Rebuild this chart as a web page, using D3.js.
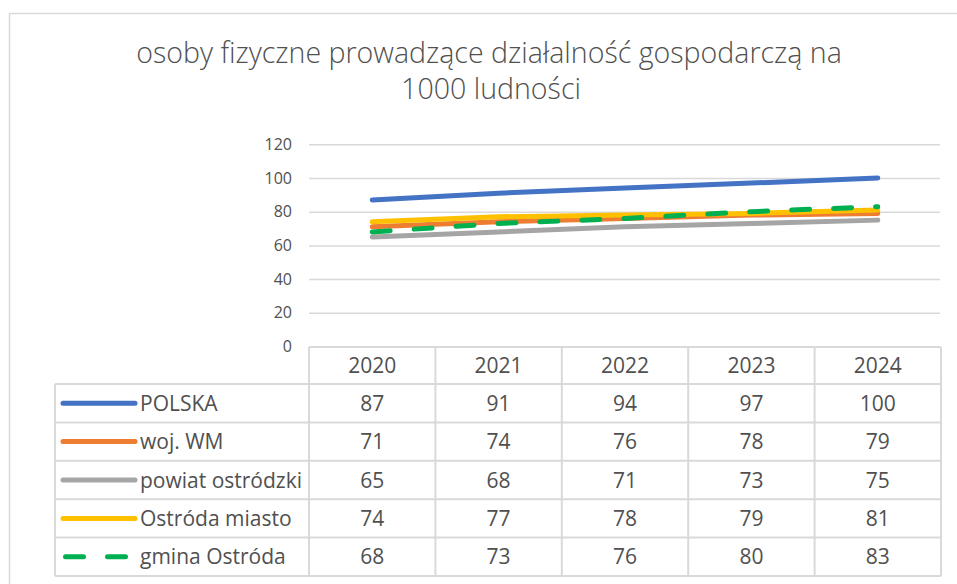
<!DOCTYPE html>
<html>
<head>
<meta charset="utf-8">
<script src="https://cdn.jsdelivr.net/npm/d3@7"></script>
<style>
  body { margin: 0; background: #fff; }
  svg text { font-family: "Open Sans", sans-serif; fill: #505050; }
</style>
</head>
<body>
<svg width="957" height="584"></svg>
<script>
// data
const years = ["2020", "2021", "2022", "2023", "2024"];
const seriesNames = ["POLSKA", "woj. WM", "powiat ostródzki", "Ostróda miasto", "gmina Ostróda"];
const polska = [87, 91, 94, 97, 100];
const wojWM = [71, 74, 76, 78, 79];
const powiat = [65, 68, 71, 73, 75];
const ostrodaMiasto = [74, 77, 78, 79, 81];
const gminaOstroda = [68, 73, 76, 80, 83];
const yTicks = [0, 20, 40, 60, 80, 100, 120];

const colors = ["#4472C4", "#ED7D31", "#A5A5A5", "#FFC000", "#00B050"];
const series = [polska, wojWM, powiat, ostrodaMiasto, gminaOstroda].map(function(v, i) {
	return {name: seriesNames[i], values: v, color: colors[i], dashed: i === 4};
});

const svg = d3.select("svg");

// outer chart frame
svg.append("rect")
		.attr("x", 9.5).attr("y", 13.5)
		.attr("width", 1000).attr("height", 600)
		.attr("fill", "none")
		.attr("stroke", "#D9D9D9")
		.attr("stroke-width", 1.5);

// title, fitted to the width of the original
const titleLines = ["osoby fizyczne prowadzące działalność gospodarczą na", "1000 ludności"];
const title = svg.append("g").attr("class", "title");
const t1 = title.append("text")
		.attr("x", 489).attr("y", 63)
		.attr("text-anchor", "middle")
		.style("font-weight", 300)
		.style("font-size", "26px")
		.text(titleLines[0]);
const w = t1.node().getComputedTextLength();
const titleSize = 26 * 706 / w;
t1.style("font-size", titleSize + "px");
title.append("text")
		.attr("x", 491).attr("y", 99)
		.attr("text-anchor", "middle")
		.style("font-weight", 300)
		.style("font-size", titleSize + "px")
		.text(titleLines[1]);

// scales
const plotLeft = 309, plotRight = 941;
const x = d3.scaleBand().domain(years).range([plotLeft, plotRight]);
const y = d3.scaleLinear().domain([0, 120]).range([346.5, 144.3]);
const cx = function(d) { return x(d) + x.bandwidth() / 2; };

// gridlines
const grid = svg.append("g")
		.attr("transform", "translate(" + plotLeft + ",0)")
		.call(d3.axisLeft(y).tickValues(yTicks.filter(function(d) { return d > 0; }))
				.tickSize(-(plotRight - plotLeft - 1)).tickFormat(""));
grid.select(".domain").remove();
grid.selectAll("line").attr("stroke", "#D9D9D9").attr("stroke-width", 1.5);

// y axis labels
const yAxis = svg.append("g")
		.attr("transform", "translate(" + plotLeft + ",0)")
		.call(d3.axisLeft(y).tickValues(yTicks).tickSize(0).tickPadding(17));
yAxis.select(".domain").remove();
yAxis.selectAll("text")
		.style("font-family", "'Open Sans', sans-serif")
		.style("font-size", "16px")
		.attr("fill", "#595959");

// lines
const line = d3.line()
		.x(function(d, i) { return cx(years[i]); })
		.y(function(d) { return y(d); });

svg.append("g").selectAll("path")
		.data(series)
		.enter().append("path")
		.attr("d", function(d) { return line(d.values); })
		.attr("fill", "none")
		.attr("stroke", function(d) { return d.color; })
		.attr("stroke-width", 5)
		.attr("stroke-linecap", "round")
		.attr("stroke-linejoin", "round")
		.attr("stroke-dasharray", function(d) { return d.dashed ? "18,24" : null; });

// data table
const tableTop = 347, headerBottom = 384, rowH = 38.4, legendLeft = 55;
const rowY = function(i) { return headerBottom + i * rowH; };
const tableBottom = rowY(series.length);
const tbl = svg.append("g").attr("class", "table");
const gridColor = "#D9D9D9";

// horizontal borders
tbl.append("line")
		.attr("x1", plotLeft).attr("x2", plotRight)
		.attr("y1", tableTop).attr("y2", tableTop);
tbl.selectAll(".hrow")
		.data(d3.range(series.length + 1))
		.enter().append("line")
		.attr("class", "hrow")
		.attr("x1", legendLeft).attr("x2", plotRight)
		.attr("y1", function(i) { return rowY(i); })
		.attr("y2", function(i) { return rowY(i); });
// vertical borders
tbl.append("line")
		.attr("x1", legendLeft).attr("x2", legendLeft)
		.attr("y1", headerBottom).attr("y2", tableBottom);
tbl.selectAll(".vcol")
		.data(years.concat(["end"]))
		.enter().append("line")
		.attr("class", "vcol")
		.attr("x1", function(d) { return d === "end" ? plotRight : x(d); })
		.attr("x2", function(d) { return d === "end" ? plotRight : x(d); })
		.attr("y1", tableTop).attr("y2", tableBottom);
tbl.selectAll("line").attr("stroke", gridColor).attr("stroke-width", 2);

// header years
tbl.selectAll(".year")
		.data(years)
		.enter().append("text")
		.attr("class", "year")
		.attr("x", cx)
		.attr("y", (tableTop + headerBottom) / 2 + 7.5)
		.attr("text-anchor", "middle")
		.style("font-size", "21px")
		.text(function(d) { return d; });

// rows
const rows = tbl.selectAll(".row")
		.data(series)
		.enter().append("g")
		.attr("class", "row")
		.attr("transform", function(d, i) { return "translate(0," + (rowY(i) + rowH / 2) + ")"; });

rows.append("line")
		.attr("x1", function(d) { return d.dashed ? 65.5 : 63; })
		.attr("x2", function(d) { return d.dashed ? 125.5 : 135; })
		.attr("y1", 0).attr("y2", 0)
		.attr("stroke", function(d) { return d.color; })
		.attr("stroke-width", 5)
		.attr("stroke-linecap", "round")
		.attr("stroke-dasharray", function(d) { return d.dashed ? "18,24" : null; });

rows.append("text")
		.attr("x", 140).attr("y", 7.5)
		.style("font-size", "21px")
		.text(function(d) { return d.name; });

rows.selectAll(".val")
		.data(function(d) { return d.values; })
		.enter().append("text")
		.attr("class", "val")
		.attr("x", function(d, i) { return cx(years[i]); })
		.attr("y", 7.5)
		.attr("text-anchor", "middle")
		.style("font-size", "21px")
		.text(function(d) { return d; });
</script>
</body>
</html>
